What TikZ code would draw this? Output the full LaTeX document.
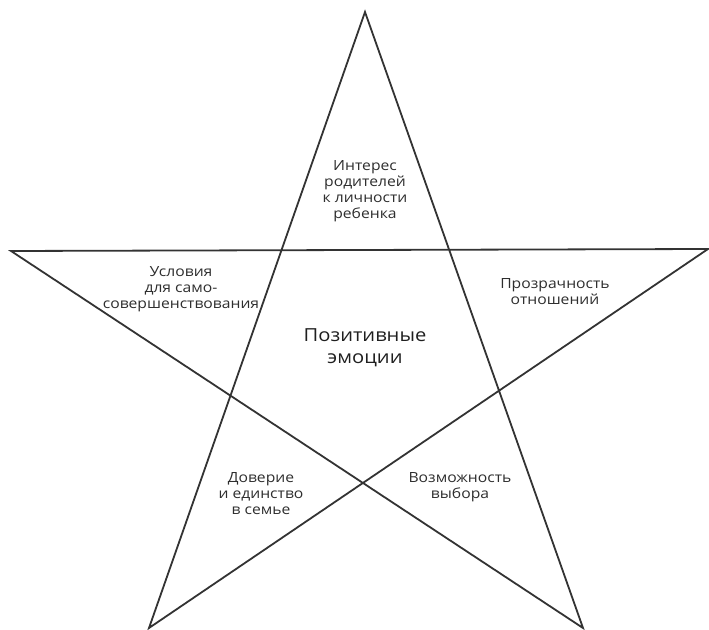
\documentclass[tikz,border=0pt]{standalone}
\usepackage{fontspec}
\setmainfont{Open Sans}[FakeStretch=1.12]
\usetikzlibrary{calc}

\begin{document}
\begin{tikzpicture}[x=0.75pt,y=-0.75pt,line width=1.35pt,
  ptext/.style={align=center,inner sep=0pt,font=\fontsize{10.5}{12}\selectfont,text=black!82},
  ctext/.style={align=center,inner sep=0pt,font=\fontsize{13.5}{16.5}\selectfont,text=black!88}]
  \useasboundingbox (0,0) rectangle (709,630);

  % star points
  \coordinate (top) at (365,12);
  \coordinate (lt)  at (11,251);
  \coordinate (rt)  at (708,249);
  \coordinate (bl)  at (149,628);
  \coordinate (br)  at (583,628);
  \draw [black!80] (top) -- (bl) -- (rt) -- (lt) -- (br) -- cycle;

  \node [ctext] (emo) at (365,348) {Позитивные\\эмоции};

  \node [ptext] (interes) at (365,191) {Интерес\\родителей\\к личности\\ребенка};
  \node [ptext] (usl)     at (181,289) {Условия\\для само-\\совершенствования};
  \node [ptext] (prozr)   at (555,292) {Прозрачность\\отношений};
  \node [ptext] (dov)     at (261,494) {Доверие\\и единство\\в семье};
  \node [ptext] (vozm)    at (460,487) {Возможность\\выбора};

\end{tikzpicture}
\end{document}
